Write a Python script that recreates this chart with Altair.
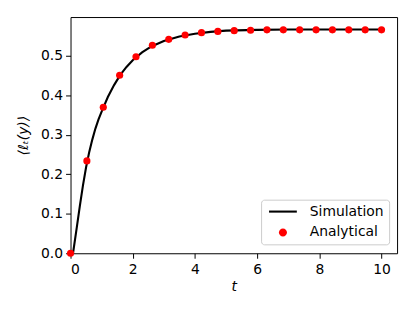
import altair as alt
import pandas as pd

# Analytical points (20 evenly spaced t values from 0 to 10)
ana_t = [0.0, 0.526, 1.053, 1.579, 2.105, 2.632, 3.158, 3.684, 4.211, 4.737,
         5.263, 5.789, 6.316, 6.842, 7.368, 7.895, 8.421, 8.947, 9.474, 10.0]
ana_y = [0.0, 0.234, 0.370, 0.451, 0.498, 0.527, 0.542, 0.553, 0.559, 0.562,
         0.564, 0.565, 0.566, 0.566, 0.566, 0.566, 0.566, 0.566, 0.566, 0.566]

# Simulation curve
sim_t = [0.08, 0.2, 0.3, 0.4, 0.5, 0.6, 0.7, 0.8, 0.9, 1.0, 1.2, 1.4, 1.6,
         1.8, 2.0, 2.3, 2.6, 3.0, 3.5, 4.0, 4.5, 5.0, 6.0, 7.0, 8.0, 9.0, 10.0]
sim_y = [0.0, 0.065, 0.120, 0.172, 0.218, 0.256, 0.288, 0.316, 0.339, 0.359,
         0.396, 0.426, 0.452, 0.472, 0.489, 0.509, 0.524, 0.538, 0.549, 0.556,
         0.561, 0.564, 0.566, 0.567, 0.567, 0.567, 0.567]

series = ["Simulation", "Analytical"]
series_colors = ["black", "red"]
x_ticks = [0, 2, 4, 6, 8, 10]
y_ticks = [0.0, 0.1, 0.2, 0.3, 0.4, 0.5]

sim_df = pd.DataFrame({"t": sim_t, "y": sim_y})
ana_df = pd.DataFrame({"t": ana_t, "y": ana_y})
leg_df = pd.DataFrame({"series": series})

FONT = "DejaVu Sans"

x_enc = alt.X("t:Q", scale=alt.Scale(domain=[0, 10.5], nice=False, zero=False),
              axis=alt.Axis(values=x_ticks, format="d", title="t",
                            titleFontStyle="italic"))
y_enc = alt.Y("y:Q", scale=alt.Scale(domain=[0, 0.5985], nice=False),
              axis=alt.Axis(values=y_ticks, format=".1f", title="⟨ℓₜ(y)⟩",
                            titleFontStyle="italic"))

# legend symbol paths (unit = 7 px at symbolSize 196)
line_path = "M -2,-0.15 H 2 V 0.15 H -2 Z"
circle_path = "M -0.58,0 A 0.58,0.58 0 1,0 0.58,0 A 0.58,0.58 0 1,0 -0.58,0 Z"

line = alt.Chart(sim_df).mark_line(strokeWidth=2.1, color="black").encode(
    x=x_enc, y=y_enc,
)

points = alt.Chart(ana_df).mark_point(filled=True, size=52, opacity=1, color="red").encode(
    x=x_enc, y=y_enc,
)

legend = alt.Legend(
    title=None, orient="none", legendX=192, legendY=184,
    symbolSize=196, symbolStrokeWidth=0, symbolOpacity=1,
    labelFont=FONT, labelFontSize=14, labelColor="black",
    labelOffset=20, symbolOffset=10, padding=5, rowPadding=7,
    fillColor="rgba(255,255,255,0.8)", strokeColor="#cccccc", cornerRadius=3,
)

legend_layer = alt.Chart(leg_df).mark_point(filled=True, opacity=1).encode(
    color=alt.Color("series:N", scale=alt.Scale(domain=series, range=series_colors),
                    legend=legend),
    shape=alt.Shape("series:N", scale=alt.Scale(domain=series, range=[line_path, circle_path]),
                    legend=legend),
).transform_filter("false")

chart = alt.layer(line, points, legend_layer).properties(
    width=329, height=238,
    autosize=alt.AutoSizeParams(type="none"),
    padding={"left": 63, "top": 8, "right": 10, "bottom": 50},
).configure_view(
    stroke="black", strokeWidth=1,
).configure_axis(
    grid=False, domain=False, tickColor="black", tickSize=5, tickWidth=1,
    labelFont=FONT, labelFontSize=14, labelColor="black", labelPadding=3,
    titleFont=FONT, titleFontSize=14, titleColor="black", titleFontWeight="normal",
).configure_axisX(labelPadding=4, titlePadding=4).configure_axisY(titlePadding=10)

chart.save("out.html", embed_options={"renderer": "svg", "actions": False})
